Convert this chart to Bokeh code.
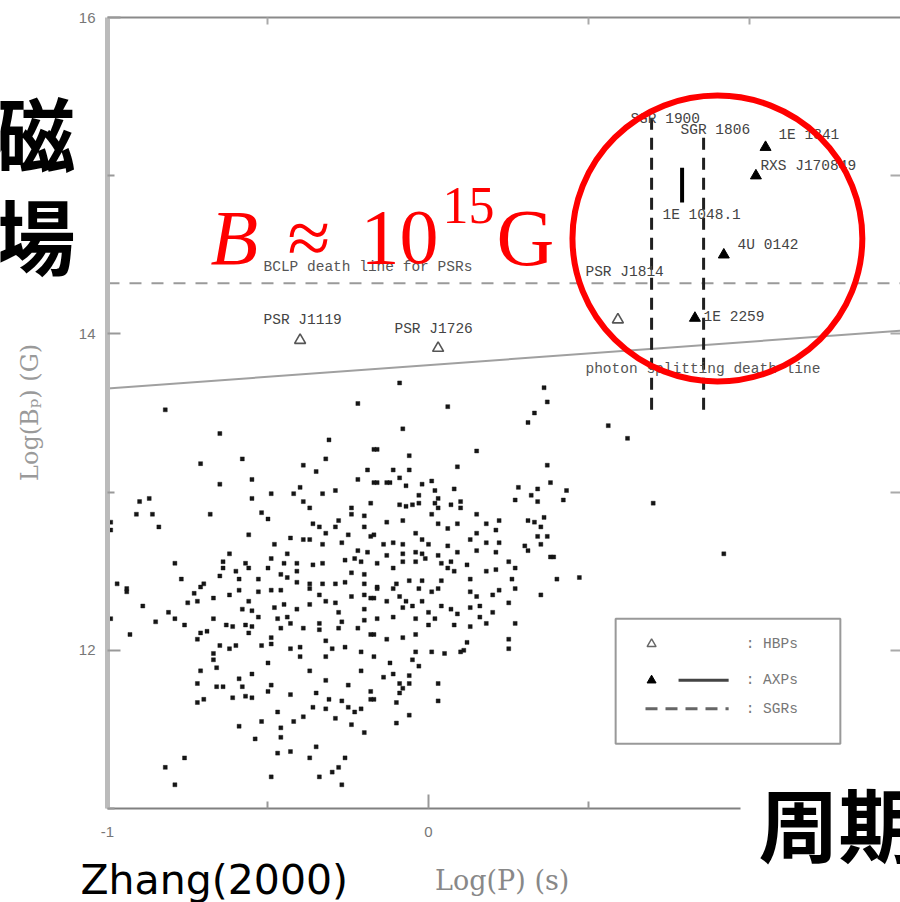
import math
from bokeh.plotting import figure
from bokeh.models import Label, LinearAxis, FixedTicker, Range1d, ColumnDataSource
from bokeh.core.properties import value
from bokeh.embed import file_html
from bokeh.resources import INLINE

# ---- radio pulsars: log period (s) and log surface field (G) ----
psr_logp = [
    -0.82, -0.65, -0.31, -0.22, -0.17, -0.58, -0.71, -0.32, -0.39, -0.35,
    -0.19, -0.65, -0.55, -0.22, -0.17, -0.40, -0.49, -0.42, -0.33, -0.29,
    -0.55, -0.87, -0.90, -0.91, -0.86, -0.68, -0.52, -0.50, -0.39, -0.37,
    -0.24, -0.24, -0.20, -0.18, -0.36, -0.34, -0.28, -0.29, -0.20, -0.84,
    -0.99, -0.99, -0.56, -0.43, -0.39, -0.37, -0.32, -0.33, -0.25, -0.27,
    -0.18, -0.48, -0.62, -0.44, -0.22, -0.19, -0.23, -0.21, -0.26, -0.79,
    -0.64, -0.64, -0.57, -0.49, -0.45, -0.41, -0.41, -0.36, -0.33, -0.56,
    -0.50, -0.60, -0.24, -0.20, -0.65, -0.59, -0.53, -0.46, -0.44, -0.41,
    -0.77, -0.97, -0.70, -0.37, -0.33, -0.29, -0.26, -0.20, -0.94,
    -0.09, 0.36, 0.37, 0.06, 0.33, 0.31, 0.56, 0.62, -0.08, -0.16,
    0.15, -0.06, 0.09, 0.37, -0.11, -0.06, -0.16, -0.13, -0.12, -0.09,
    -0.07, -0.02, 0.01, 0.02, 0.08, 0.38, 0.28, 0.34, 0.43, 0.32,
    0.27, 0.34, 0.42, -0.03, 0.03, -0.09, -0.07, -0.05, -0.03, 0.02,
    0.03, 0.07, 0.10, 0.10, 0.01, 0.15, -0.13, -0.08, 0.03, 0.09,
    0.06, 0.18, 0.22, 0.21, 0.31, 0.33, 0.36, 0.35, -0.17, -0.04,
    -0.02, 0.15, 0.13, 0.34, 0.37, -0.14, -0.11, -0.08, 0.00, 0.06,
    0.18, 0.22, 0.35, 0.30, -0.13, -0.08, -0.04, -0.02, 0.03, 0.09,
    0.15, 0.21, 0.31, 0.38, -0.16, -0.11, -0.08, -0.04, -0.01, 0.04,
    0.07, 0.08, 0.12, 0.25, 0.27, 0.18, 0.21, -0.06, -0.02, 0.04,
    0.13, 0.26, 0.40, 0.47, -0.16, -0.10, 0.06,
    -0.94, -0.89, -0.99, -0.93, -0.81, -0.79, -0.85, -0.76, -0.73, -0.75,
    -0.72, -0.71, -0.67, -0.67, -0.71, -0.69, -0.72, -0.62, -0.59, -0.56,
    -0.53, -0.58, -0.55, -0.53, -0.63, -0.61, -0.57, -0.56, -0.55, -0.49,
    -0.46, -0.48, -0.45, -0.41, -0.47, -0.44, -0.46, -0.43, -0.39, -0.37,
    -0.34, -0.32, -0.37, -0.29, -0.28, -0.24, -0.20, -0.18, -0.20, -0.34,
    -0.34, -0.28, -0.27, -0.22, -0.20, -0.18, -0.65, -0.62, -0.60, -0.67,
    -0.67, -0.66, -0.71, -0.72, -0.66, -0.64, -0.70, -0.72, -0.59, -0.55,
    -0.58, -0.61, -0.57, -0.55, -0.52, -0.49, -0.49, -0.50, -0.43, -0.40,
    -0.40, -0.49, -0.50, -0.43, -0.37, -0.32, -0.32, -0.32, -0.26, -0.30,
    -0.21, -0.21, -0.25, -0.35, -0.31, -0.18, -0.18, -0.27, -0.25, -0.23,
    -0.21, -0.36, -0.32, -0.29, -0.39, -0.42, -0.47, -0.52, -0.59, -0.46,
    -0.46, -0.54, -0.24, -0.20, -0.35, -0.47, -0.43, -0.37, -0.26, -0.76,
    -0.82, -0.79, -0.49, -0.34, -0.30, -0.28, -0.27,
    -0.16, -0.11, -0.03, 0.01, 0.03, -0.17, -0.13, -0.09, -0.07, -0.05,
    -0.02, -0.08, -0.11, -0.16, -0.04, 0.00, 0.02, 0.00, 0.04, 0.07,
    0.09, 0.08, 0.13, 0.15, 0.13, 0.16, 0.13, 0.16, 0.18, 0.20,
    0.20, 0.22, 0.25, 0.27, 0.35, 0.27, -0.17, -0.13, -0.08, -0.04,
    0.12, 0.11, 0.25, 0.25, -0.17, -0.12, -0.04, 0.01, 0.05, 0.10,
    -0.05, -0.03, -0.14, -0.11, -0.06, -0.09, -0.06, 0.03, -0.08, -0.09,
    -0.17, -0.10, 0.03, -0.06, -0.10,
    0.70, 0.92, 0.39,
]
psr_logb = [
    13.52, 13.37, 13.33, 13.56, 13.27, 13.21, 13.18, 13.21, 13.17, 13.13,
    13.14, 13.05, 13.08, 13.08, 13.06, 13.03, 12.99, 12.99, 12.99, 13.01,
    12.96, 12.96, 12.94, 12.86, 12.86, 12.86, 12.87, 12.83, 12.94, 12.90,
    12.90, 12.86, 12.85, 12.93, 12.80, 12.78, 12.82, 12.78, 12.78, 12.78,
    12.81, 12.76, 12.73, 12.71, 12.70, 12.70, 12.74, 12.67, 12.73, 12.68,
    12.72, 12.67, 12.61, 12.61, 12.63, 12.62, 12.58, 12.56, 12.57, 12.55,
    12.56, 12.52, 12.55, 12.58, 12.55, 12.55, 12.50, 12.54, 12.55, 12.52,
    12.52, 12.50, 12.49, 12.48, 12.47, 12.45, 12.45, 12.48, 12.46, 12.43,
    12.45, 12.42, 12.42, 12.42, 12.42, 12.42, 12.43, 12.42, 12.39,
    13.69, 13.66, 13.57, 13.54, 13.50, 13.44, 13.42, 13.34, 13.40, 13.27,
    13.26, 13.23, 13.16, 13.17, 13.14, 13.14, 13.06, 13.06, 13.06, 13.09,
    13.04, 13.05, 13.07, 13.01, 13.02, 13.06, 13.03, 13.02, 13.01, 12.98,
    12.95, 12.94, 12.95, 12.98, 12.96, 12.92, 12.91, 12.92, 12.93, 12.93,
    12.90, 12.92, 12.94, 12.90, 12.86, 12.86, 12.81, 12.82, 12.80, 12.80,
    12.77, 12.80, 12.82, 12.76, 12.82, 12.81, 12.84, 12.78, 12.73, 12.74,
    12.70, 12.74, 12.70, 12.72, 12.72, 12.67, 12.68, 12.67, 12.67, 12.66,
    12.68, 12.68, 12.67, 12.66, 12.60, 12.61, 12.62, 12.61, 12.60, 12.62,
    12.63, 12.62, 12.63, 12.59, 12.55, 12.52, 12.56, 12.56, 12.58, 12.55,
    12.56, 12.50, 12.54, 12.56, 12.52, 12.50, 12.51, 12.44, 12.44, 12.44,
    12.45, 12.45, 12.45, 12.46, 12.40, 12.42, 12.52,
    12.37, 12.28, 12.20, 12.10, 12.24, 12.20, 12.18, 12.16, 12.36, 12.30,
    12.31, 12.40, 12.33, 12.20, 12.11, 12.12, 12.07, 12.35, 12.38, 12.31,
    12.37, 12.26, 12.25, 12.21, 12.16, 12.15, 12.16, 12.11, 12.15, 12.38,
    12.38, 12.27, 12.29, 12.26, 12.20, 12.21, 12.14, 12.17, 12.14, 12.39,
    12.35, 12.31, 12.29, 12.30, 12.24, 12.34, 12.35, 12.33, 12.26, 12.17,
    12.13, 12.14, 12.18, 12.14, 12.19, 12.10, 12.03, 12.01, 12.03, 11.98,
    11.94, 11.89, 11.87, 11.79, 11.77, 11.77, 11.69, 11.67, 11.82, 11.85,
    11.77, 11.70, 11.71, 11.70, 12.03, 12.04, 12.08, 11.92, 12.01, 12.02,
    11.96, 11.78, 11.74, 11.72, 11.87, 12.06, 11.96, 11.81, 12.02, 12.01,
    11.99, 11.87, 11.78, 11.73, 11.69, 11.74, 11.69, 11.68, 11.64, 11.61,
    11.63, 11.64, 11.63, 11.57, 11.58, 11.55, 11.61, 11.55, 11.52, 11.51,
    11.45, 11.44, 11.53, 11.48, 11.39, 11.35, 11.36, 11.32, 11.32, 11.32,
    11.26, 11.15, 11.20, 11.20, 11.23, 11.26, 11.15,
    12.39, 12.39, 12.39, 12.37, 12.39, 12.33, 12.31, 12.34, 12.31, 12.28,
    12.31, 12.27, 12.21, 12.20, 12.20, 12.24, 12.20, 12.16, 12.28, 12.26,
    12.23, 12.16, 12.37, 12.34, 12.27, 12.28, 12.15, 12.21, 12.17, 12.24,
    12.35, 12.38, 12.30, 12.39, 12.35, 12.17, 12.10, 12.07, 12.08, 12.10,
    12.05, 12.00, 12.07, 12.01, 11.96, 11.92, 11.99, 11.99, 11.98, 11.99,
    11.94, 11.90, 11.83, 11.85, 11.84, 11.79, 11.79, 11.79, 11.76, 11.73,
    11.69, 11.67, 11.68, 11.59, 11.54,
    12.93, 12.61, 12.59,
]

# ---- high-field pulsars (HBPs) ----
hbp_names = ["PSR J1119", "PSR J1726", "PSR J1814"]
hbp_logp = [-0.40, 0.03, 0.59]
hbp_logb = [13.96, 13.91, 14.09]

# ---- anomalous X-ray pulsars (AXPs) ----
axp_names = ["1E 1841", "RXS J170849", "4U 0142", "1E 2259"]
axp_logp = [1.05, 1.02, 0.92, 0.83]
axp_logb = [15.18, 15.00, 14.50, 14.10]
# 1E 1048.1 is shown as a range in field strength
axp_bar_logp = 0.79
axp_bar_logb = [14.83, 15.05]

# ---- soft gamma repeaters (SGRs): period fixed, field range ----
sgr_names = ["SGR 1900", "SGR 1806"]
sgr_logp = [0.695, 0.857]
sgr_logb_low = [13.52, 13.52]
sgr_logb_high = [15.39, 15.24]

# ---- death lines ----
bclp_logb = 14.32
split_logp = [-1.0, 1.47]
split_logb = [13.655, 14.02]

# ---- axis ticks ----
y_major = [12, 14, 16]
y_minor = [11, 13, 15]
x_major = [-1, 0]
x_minor = [-0.5, 0.5, 1.0]

# data window of the axes box, and the full canvas around it
XA0, XA1 = -1.0, 1.4704
YA0, YA1 = 11.0, 16.0
X0, X1 = -1.3333, 1.4704
Y0, Y1 = 10.4058, 16.1075

p = figure(width=900, height=902, x_range=Range1d(X0, X1), y_range=Range1d(Y0, Y1),
           output_backend="svg", toolbar_location=None,
           x_axis_location=None, y_axis_location=None,
           min_border=0, min_border_left=0, min_border_right=0,
           min_border_top=0, min_border_bottom=0)
p.outline_line_color = None
p.xgrid.visible = False
p.ygrid.visible = False
p.background_fill_color = "white"
p.border_fill_color = "white"


def style_axis(ax, line_color, line_width, tick_color, major_in, minor_in):
    ax.axis_line_color = line_color
    ax.axis_line_width = line_width
    ax.major_tick_line_color = tick_color
    ax.minor_tick_line_color = tick_color
    ax.major_tick_line_width = 2
    ax.minor_tick_line_width = 2
    ax.major_tick_in = major_in
    ax.major_tick_out = 0
    ax.minor_tick_in = minor_in
    ax.minor_tick_out = 0
    ax.major_label_text_font = "Liberation Sans"
    ax.major_label_text_font_size = "15px"
    ax.major_label_text_color = "#777777"


left = LinearAxis(ticker=FixedTicker(ticks=y_major, minor_ticks=y_minor),
                  fixed_location=XA0, bounds=(YA0, YA1))
style_axis(left, "#bbbbbb", 5, "#999999", 13, 7)
left.major_label_standoff = 12
p.add_layout(left, "left")

bottom = LinearAxis(ticker=FixedTicker(ticks=x_major, minor_ticks=x_minor),
                    fixed_location=YA0, bounds=(XA0, XA1))
style_axis(bottom, "#808080", 2, "#999999", 14, 7)
bottom.major_label_standoff = 19
bottom.major_label_overrides = {-1: "-1", 0: "0"}
p.add_layout(bottom, "below")

top = LinearAxis(ticker=FixedTicker(ticks=[], minor_ticks=x_minor),
                 fixed_location=YA1, bounds=(XA0, XA1))
style_axis(top, "#8a8a8a", 2, "#aaaaaa", 12, 7)
p.add_layout(top, "above")

right = LinearAxis(ticker=FixedTicker(ticks=[], minor_ticks=[12, 13, 14, 15]),
                   fixed_location=XA1, bounds=(YA0, YA1))
style_axis(right, None, 1, "#aaaaaa", 10, 10)
p.add_layout(right, "right")

# radio pulsars
p.scatter(psr_logp, psr_logb, marker="square", size=4, fill_color="#151515",
          line_color="#151515", line_width=0.4)

# death lines
p.line([XA0, XA1], [bclp_logb, bclp_logb], line_color="#9a9a9a", line_width=2, line_dash="12 10")
p.line(split_logp, split_logb, line_color="#a0a0a0", line_width=2)

# SGR period lines
p.segment(x0=sgr_logp, y0=sgr_logb_low, x1=sgr_logp, y1=sgr_logb_high,
          line_color="#202020", line_width=3, line_dash="12 8")

# AXP field range
p.segment(x0=[axp_bar_logp], y0=[axp_bar_logb[0]], x1=[axp_bar_logp], y1=[axp_bar_logb[1]],
          line_color="black", line_width=4)

# AXPs and HBPs
p.scatter(axp_logp, axp_logb, marker="triangle", size=11, fill_color="black", line_color="black")
p.scatter(hbp_logp, hbp_logb, marker="triangle", size=11, fill_color="white",
          line_color="#555555", line_width=1.6)

# object labels
mono = value("Liberation Mono")
lab_src = ColumnDataSource(dict(
    x=[0.629, 0.785, 1.090, 1.034, 0.729, 0.963, 0.489, 0.857, -0.514, -0.106],
    y=[15.36, 15.29, 15.26, 15.06, 14.75, 14.56, 14.39, 14.11, 14.085, 14.03],
    t=["SGR 1900", "SGR 1806", "1E 1841", "RXS J170849", "1E 1048.1", "4U 0142",
       "PSR J1814", "1E 2259", "PSR J1119", "PSR J1726"],
))
p.text("x", "y", text="t", source=lab_src, text_font=mono, text_font_size="14.5px",
       text_color="#444444", text_align="left", text_baseline="middle")
p.text(x=[-0.514], y=[14.42], text=["BCLP death line for PSRs"], text_font=mono,
       text_font_size="14.5px", text_color="#555555", text_baseline="middle")
p.text(x=[0.489], y=[13.78], text=["photon splitting death line"], text_font=mono,
       text_font_size="14.5px", text_color="#555555", text_baseline="middle")

# key box
p.quad(left=[0.583], right=[1.283], bottom=[11.41], top=[12.20], fill_color="white",
       line_color="#999999", line_width=2)
p.scatter([0.695], [12.04], marker="triangle", size=9, fill_color="white",
          line_color="#666666", line_width=1.4)
p.scatter([0.695], [11.81], marker="triangle", size=9, fill_color="black", line_color="black")
p.line([0.779, 0.935], [11.81, 11.81], line_color="#444444", line_width=3)
p.line([0.676, 0.935], [11.63, 11.63], line_color="#666666", line_width=3, line_dash="12 8")
p.text(x=[0.988, 0.988, 0.988], y=[12.04, 11.81, 11.63], text=[": HBPs", ": AXPs", ": SGRs"],
       text_font=mono, text_font_size="14.5px", text_color="#777777", text_baseline="middle")

# highlight circle around the magnetars
p.ellipse(x=[0.900], y=[14.603], width=[0.903], height=[1.808], fill_color=None,
          line_color="#ff0000", line_width=6)

# B ~ 10^15 G
serif = "Liberation Serif"
for txt, x, y, size, style in [("B", -0.679, 14.609, "78px", "italic"),
                               ("\u2248", -0.439, 14.609, "78px", "normal"),
                               ("10", -0.212, 14.609, "78px", "normal"),
                               ("15", 0.044, 14.81, "52px", "normal"),
                               ("G", 0.212, 14.609, "80px", "normal")]:
    p.add_layout(Label(x=x, y=y, text=txt, text_font=serif, text_font_size=size,
                       text_font_style=style, text_color="#ff0000",
                       text_align="left", text_baseline="alphabetic"))

# axis titles
p.add_layout(Label(x=-1.240, y=13.528, text="Log(B\u209a)  (G)", angle=math.pi / 2,
                   text_font="DejaVu Serif", text_font_size="24px", text_color="#9a9a9a",
                   text_align="center", text_baseline="middle"))
p.add_layout(Label(x=0.243, y=10.545, text="Log(P)  (s)", text_font="DejaVu Serif",
                   text_font_size="27px", text_color="#888888",
                   text_align="center", text_baseline="middle"))

# Japanese captions and citation
cjk = "Noto Sans CJK JP"
p.add_layout(Label(x=-1.100, y=15.286, text="磁", text_font=cjk, text_font_size="82px",
                   text_font_style="bold", text_color="black",
                   text_align="right", text_baseline="middle"))
p.add_layout(Label(x=-1.100, y=14.635, text="場", text_font=cjk, text_font_size="82px",
                   text_font_style="bold", text_color="black",
                   text_align="right", text_baseline="middle"))
p.add_layout(Label(x=0.972, y=10.918, text="周期", text_font=cjk, text_font_size="80px",
                   text_font_style="bold", text_color="black",
                   text_align="left", text_baseline="middle",
                   background_fill_color="white", padding=18))
p.add_layout(Label(x=-1.084, y=10.545, text="Zhang(2000)", text_font="DejaVu Sans",
                   text_font_size="41px", text_color="black",
                   text_align="left", text_baseline="middle"))

open("out.html", "w").write(file_html(p, INLINE))
